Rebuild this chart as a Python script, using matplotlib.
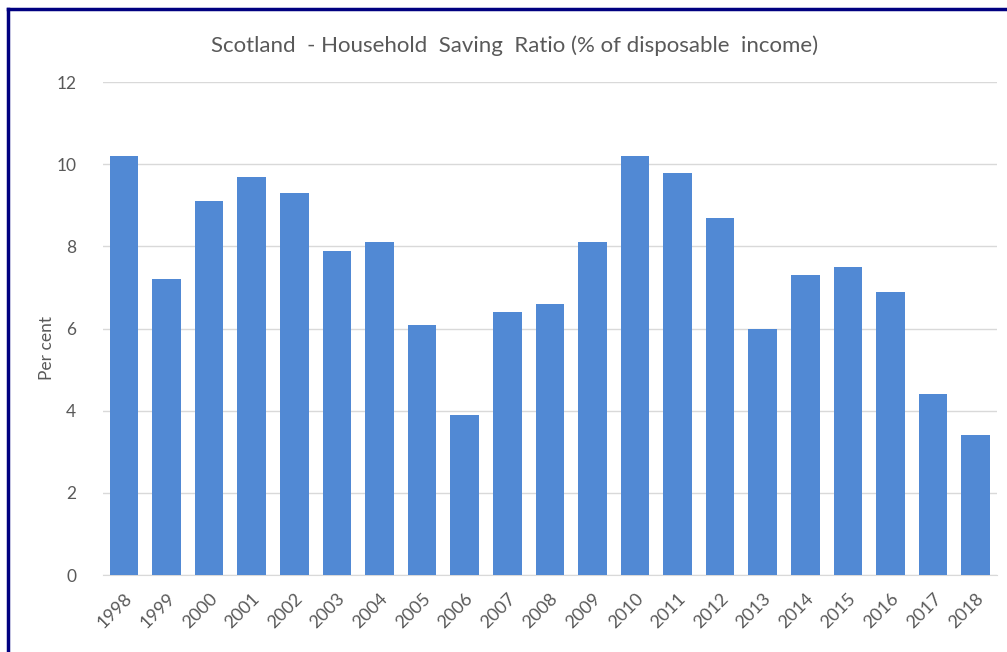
import matplotlib.pyplot as plt
from matplotlib.lines import Line2D

years = ['1998', '1999', '2000', '2001', '2002', '2003', '2004', '2005', '2006', '2007', '2008',
         '2009', '2010', '2011', '2012', '2013', '2014', '2015', '2016', '2017', '2018']
saving_ratio = [10.2, 7.2, 9.1, 9.7, 9.3, 7.9, 8.1, 6.1, 3.9, 6.4, 6.6,
                8.1, 10.2, 9.8, 8.7, 6.0, 7.3, 7.5, 6.9, 4.4, 3.4]

plt.rcParams['font.family'] = ['Lato', 'DejaVu Sans']

fig = plt.figure(figsize=(10.07, 6.52), dpi=100)
ax = fig.add_axes([0.102, 0.118, 0.888, 0.756])

ax.bar(range(len(years)), saving_ratio, width=0.67, color='#5189D4', zorder=3)

ax.set_xlim(-0.5, len(years) - 0.5)
ax.set_ylim(0, 12)
ax.set_yticks([0, 2, 4, 6, 8, 10, 12])
ax.set_xticks(range(len(years)))
ax.set_xticklabels(years, rotation=45, ha='right', rotation_mode='anchor')
ax.tick_params(axis='y', length=0, labelsize=12.5, colors='#595959', pad=19)
ax.tick_params(axis='x', length=0, labelsize=13, colors='#595959', pad=11)
ax.grid(axis='y', color='#D9D9D9', linewidth=1, zorder=0)
for s in ['top', 'right', 'left']:
    ax.spines[s].set_visible(False)
ax.spines['bottom'].set_color('#D9D9D9')

ax.set_ylabel('Per cent', fontsize=12.5, color='#595959')
ax.yaxis.set_label_coords(-0.053, 0.46)
fig.text(0.511, 0.93, 'Scotland  - Household  Saving  Ratio (% of disposable  income)',
         ha='center', va='center', fontsize=16, color='#595959')

# dark blue frame on left and top
fig.add_artist(Line2D([0.008, 0.008], [0, 0.986], transform=fig.transFigure,
                      color='#000080', linewidth=2.5))
fig.add_artist(Line2D([0.008, 1.0], [0.986, 0.986], transform=fig.transFigure,
                      color='#000080', linewidth=2.5))

fig.savefig('out.png', dpi=100)
